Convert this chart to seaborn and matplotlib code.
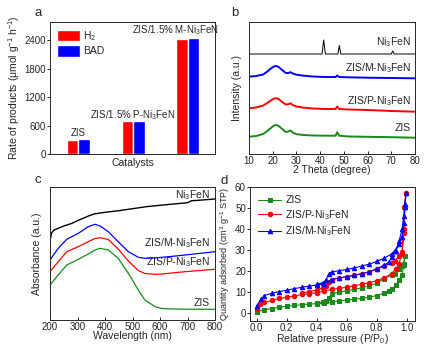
import numpy as np
import pandas as pd
import matplotlib
matplotlib.use("Agg")
import matplotlib.pyplot as plt
from matplotlib import font_manager
import seaborn as sns

# ---- data: panel a (photocatalytic rates) ----
catalysts = ["ZIS", "ZIS/1.5% P-Ni$_3$FeN", "ZIS/1.5% M-Ni$_3$FeN"]
rate_h2 = [296, 700, 2425]
rate_bad = [310, 700, 2450]

# ---- data: panel b (XRD) ----
theta_ni = [10, 40.8, 41.5, 42.2, 47.5, 48.1, 48.7, 70.0, 70.6, 71.2, 80]
xrd_ni = [100, 100, 114, 100, 100, 108.5, 100, 100, 103, 100, 100]
theta_zis = [10, 13, 16, 18, 19.5, 20.5, 21.5, 22.5, 24, 25.5, 26.5, 27.5,
             28.5, 30, 33, 37, 42, 46.5, 47.2, 48, 52, 60, 70, 80]
xrd_m = [77.3, 78, 79.5, 83, 86, 87.5, 88, 87, 84, 81, 81, 81.8,
         80.5, 79.3, 78.3, 77.5, 77, 77, 78.5, 77, 76.7, 76.3, 76, 75.7]
xrd_p = [45.7, 46.5, 48.5, 51.5, 54, 55.5, 55.7, 55, 52, 49.5, 49.7, 50.7,
         49, 47.5, 46.3, 45.5, 45, 45, 47.5, 45, 44.5, 44, 43, 42.3]
xrd_zis = [17.3, 18, 20, 23.5, 26.5, 28.5, 29, 28, 25, 22, 22.5, 23.5,
           21.5, 19.8, 19, 18.5, 18.3, 18.3, 21.7, 18.3, 17.5, 17.2, 16.8, 16.3]

# ---- data: panel c (UV-vis) ----
wl_ni = [200, 205, 215, 250, 280, 300, 340, 360, 400, 450, 500, 550, 600,
         650, 700, 715, 730, 800]
abs_ni = [78.3, 86.7, 90, 94, 96.7, 99.3, 104, 106, 107.7, 109.3, 111.3,
          113.3, 114.7, 116, 117.3, 119.3, 119.5, 121]
wl = [200, 230, 261, 303, 339, 364, 382, 412, 448, 485, 521, 545, 582, 606,
      650, 691, 800]
abs_m = [60, 71.7, 80.7, 86.7, 93.3, 95.7, 94, 88.3, 78.3, 68.3, 62.7, 61.7,
         62, 62.7, 63.8, 65, 68.3]
abs_p = [48.3, 58.3, 68.3, 73.3, 78.3, 81.5, 82.3, 80.5, 71, 59, 49.5, 46.5,
         45.7, 46, 47.2, 48.3, 50.7]
abs_zis = [35, 45, 55, 60.7, 66, 70, 71.7, 70, 61.7, 46.7, 30, 20, 13.3,
           11.5, 11, 10.8, 10.7]

# ---- data: panel d (N2 isotherms, adsorption then desorption) ----
p_zis = [0.0, 0.05, 0.1, 0.15, 0.2, 0.25, 0.3, 0.35, 0.4, 0.45, 0.5, 0.55,
         0.6, 0.65, 0.7, 0.75, 0.8, 0.85, 0.88, 0.9, 0.93, 0.95, 0.97, 0.98,
         0.99, 0.98, 0.97, 0.95, 0.92, 0.9, 0.85, 0.8, 0.75, 0.7, 0.65, 0.6,
         0.55, 0.5, 0.48, 0.46, 0.44, 0.4]
q_zis = [0.6, 1.7, 2.2, 2.8, 3.3, 3.7, 4.0, 4.4, 4.5, 4.8, 5.3, 5.8,
         6.2, 6.7, 7.0, 7.6, 8.4, 9.5, 10.6, 11.5, 13.4, 15.7, 18, 22.7,
         27.4, 23.5, 22.4, 21, 18.7, 18, 16.5, 14.2, 13, 12.1, 11.3, 10.7,
         10, 9.2, 7.2, 6, 5.3, 4.8]
p_p = [0.0, 0.02, 0.05, 0.1, 0.15, 0.2, 0.25, 0.3, 0.35, 0.4, 0.45, 0.5,
       0.55, 0.6, 0.65, 0.7, 0.75, 0.8, 0.85, 0.9, 0.93, 0.95, 0.97, 0.98,
       0.99, 0.995, 0.985, 0.98, 0.97, 0.95, 0.92, 0.9, 0.85, 0.8, 0.75, 0.7,
       0.65, 0.6, 0.55, 0.5, 0.48, 0.46, 0.44, 0.4, 0.35, 0.3]
q_p = [2.2, 4.4, 5.1, 6.1, 7, 7.6, 8.2, 8.9, 9.3, 9.8, 10.4, 11.4,
       11.8, 12.4, 13.1, 13.7, 14.5, 15.4, 16.8, 18.8, 21.2, 23.5, 29.2, 39.8,
       50.7, 57, 50.7, 38, 28, 27, 25, 24, 22.4, 20.8, 19.6, 18.8,
       18, 17.3, 16.8, 16, 14.9, 13.1, 12.1, 11, 10.3, 9.6]
p_m = [0.0, 0.03, 0.05, 0.1, 0.15, 0.2, 0.25, 0.3, 0.35, 0.4, 0.45, 0.5,
       0.55, 0.6, 0.65, 0.7, 0.75, 0.8, 0.85, 0.88, 0.9, 0.93, 0.95, 0.97,
       0.98, 0.99, 0.995, 0.99, 0.98, 0.97, 0.95, 0.92, 0.9, 0.85, 0.8, 0.75,
       0.7, 0.65, 0.6, 0.55, 0.5, 0.48, 0.46, 0.44, 0.4]
q_m = [3.6, 6.8, 8.4, 9.5, 10.3, 10.9, 11.7, 12.3, 12.9, 13.4, 14, 16,
       16.7, 17.4, 18, 18.8, 19.6, 21.2, 22.7, 24.3, 26.6, 29.7, 34.4, 39.8,
       46, 52, 57.3, 50.7, 43, 36, 32.8, 29.7, 28.2, 26.1, 24.6, 23.3,
       22.4, 21.5, 20.8, 20.2, 19.6, 18.5, 15.7, 14.5, 13.7]

sns.set_style("ticks")
installed = {f.name for f in font_manager.fontManager.ttflist}
base_font = "Liberation Sans Narrow" if "Liberation Sans Narrow" in installed else "Liberation Sans"
plt.rcParams["font.family"] = [base_font, "DejaVu Sans"]
plt.rcParams["mathtext.fontset"] = "custom"
plt.rcParams["mathtext.rm"] = base_font
plt.rcParams["mathtext.it"] = base_font + ":italic"
plt.rcParams["font.size"] = 7
plt.rcParams["axes.linewidth"] = 0.7
plt.rcParams["xtick.direction"] = "in"
plt.rcParams["ytick.direction"] = "out"
plt.rcParams["xtick.major.size"] = 2
plt.rcParams["ytick.major.size"] = 2
plt.rcParams["xtick.major.width"] = 0.7
plt.rcParams["ytick.major.width"] = 0.7
plt.rcParams["xtick.major.pad"] = 1.5
plt.rcParams["ytick.major.pad"] = 1
plt.rcParams["xtick.labelsize"] = 7
plt.rcParams["ytick.labelsize"] = 7

W, H = 429, 345
fig = plt.figure(figsize=(W / 100, H / 100), dpi=100)

def box(l, t, r, b):
    return [l / W, 1 - b / H, (r - l) / W, (b - t) / H]

ax_a = fig.add_axes(box(50, 22, 215, 154))
ax_b = fig.add_axes(box(249, 22, 415, 154))
ax_c = fig.add_axes(box(50, 187, 215, 320))
ax_d = fig.add_axes(box(250, 187, 415, 321))

# ---- panel a ----
df_a = pd.DataFrame({
    "catalyst": catalysts * 2,
    "product": ["H$_2$"] * 3 + ["BAD"] * 3,
    "rate": rate_h2 + rate_bad,
})
sns.barplot(data=df_a, x="catalyst", y="rate", hue="product",
            palette=["#ff0000", "#0000ff"], saturation=1, width=0.42, gap=0,
            ax=ax_a)
ax_a.set_xlim(-0.52, 2.5)
ax_a.set_ylim(0, 2780)
ax_a.set_yticks([0, 600, 1200, 1800, 2400])
ax_a.set_xticks([])
ax_a.set_xlabel("Catalysts", fontsize=7.5, labelpad=3)
ax_a.set_ylabel("Rate of products (μmol g$^{-1}$ h$^{-1}$)", fontsize=7.5)
ax_a.yaxis.set_label_coords(-0.17, 0.5)
ax_a.legend(loc="upper left", frameon=False, handlelength=2.2,
            handleheight=1.3, handletextpad=0.3, labelspacing=0.2,
            fontsize=7.5, borderaxespad=0.3)
ax_a.text(0, max(rate_h2[0], rate_bad[0]) + 130, catalysts[0], ha="center",
          va="center", fontsize=7)
ax_a.text(1, max(rate_h2[1], rate_bad[1]) + 120, catalysts[1], ha="center",
          va="center", fontsize=7)
ax_a.text(1.77, max(rate_h2[2], rate_bad[2]) + 160, catalysts[2], ha="center",
          va="center", fontsize=7, clip_on=False)

# ---- panel b ----
sns.lineplot(x=theta_ni, y=xrd_ni, color="black", lw=0.7, ax=ax_b)
sns.lineplot(x=theta_zis, y=xrd_m, color="#0000ff", lw=1.4, ax=ax_b)
sns.lineplot(x=theta_zis, y=xrd_p, color="#ff0000", lw=1.4, ax=ax_b)
sns.lineplot(x=theta_zis, y=xrd_zis, color="#1a8a1a", lw=1.4, ax=ax_b)
ax_b.set_xlim(10, 80)
ax_b.set_ylim(0, 132)
ax_b.set_yticks([])
ax_b.set_xticks(range(10, 81, 10))
ax_b.set_xlabel("2 Theta (degree)", fontsize=7.5, labelpad=-1)
ax_b.set_ylabel("Intensity (a.u.)", fontsize=7.5)
ax_b.yaxis.set_label_coords(-0.045, 0.5)
for ytxt, lab in [(0.85, "Ni$_3$FeN"), (0.65, "ZIS/M-Ni$_3$FeN"),
                  (0.40, "ZIS/P-Ni$_3$FeN"), (0.197, "ZIS")]:
    ax_b.text(0.976, ytxt, lab, transform=ax_b.transAxes, ha="right",
              va="center", fontsize=7.5)

# ---- panel c ----
sns.lineplot(x=wl_ni, y=abs_ni, color="black", lw=1.0, ax=ax_c)
sns.lineplot(x=wl, y=abs_m, color="#0000ff", lw=0.9, ax=ax_c)
sns.lineplot(x=wl, y=abs_p, color="#ff0000", lw=0.9, ax=ax_c)
sns.lineplot(x=wl, y=abs_zis, color="#1a8a1a", lw=0.9, ax=ax_c)
ax_c.set_xlim(200, 800)
ax_c.set_ylim(0, 133)
ax_c.set_yticks([])
ax_c.set_xticks(range(200, 801, 100))
ax_c.set_xlabel("Wavelength (nm)", fontsize=7.5, labelpad=-1)
ax_c.set_ylabel("Absorbance (a.u.)", fontsize=7.5)
ax_c.yaxis.set_label_coords(-0.05, 0.5)
for ytxt, lab in [(0.94, "Ni$_3$FeN"), (0.58, "ZIS/M-Ni$_3$FeN"),
                  (0.436, "ZIS/P-Ni$_3$FeN"), (0.128, "ZIS")]:
    ax_c.text(0.97, ytxt, lab, transform=ax_c.transAxes, ha="right",
              va="center", fontsize=7.5)

# ---- panel d ----
for p, q, col, mk, lab in [
        (p_zis, q_zis, "#1a8a1a", "s", "ZIS"),
        (p_p, q_p, "#ff0000", "o", "ZIS/P-Ni$_3$FeN"),
        (p_m, q_m, "#0000ff", "^", "ZIS/M-Ni$_3$FeN")]:
    sns.lineplot(x=p, y=q, sort=False, estimator=None, color=col, marker=mk,
                 markersize=3.2, markeredgecolor=col, lw=0.8, label=lab, ax=ax_d)
ax_d.set_xlim(-0.045, 1.056)
ax_d.set_ylim(-3.7, 60)
ax_d.set_xticks([0, 0.2, 0.4, 0.6, 0.8, 1.0])
ax_d.set_yticks(range(0, 61, 10))
ax_d.set_xlabel("Relative pressure (P/P$_0$)", fontsize=7.5, labelpad=-1)
ax_d.set_ylabel("Quantity adsorbed (cm$^3$ g$^{-1}$ STP)", fontsize=6.5)
ax_d.yaxis.set_label_coords(-0.11, 0.5)
ax_d.legend(loc="upper left", frameon=False, fontsize=7.5, handlelength=2.2,
            handletextpad=0.4, labelspacing=0.25, borderaxespad=0.4)

# panel letters
for x, y, s in [(38, 13, "a"), (235, 13, "b"), (38, 180, "c"), (224, 181, "d")]:
    fig.text(x / W, 1 - y / H, s, ha="center", va="center", fontsize=9.5)

fig.savefig("out.png", dpi=100)
